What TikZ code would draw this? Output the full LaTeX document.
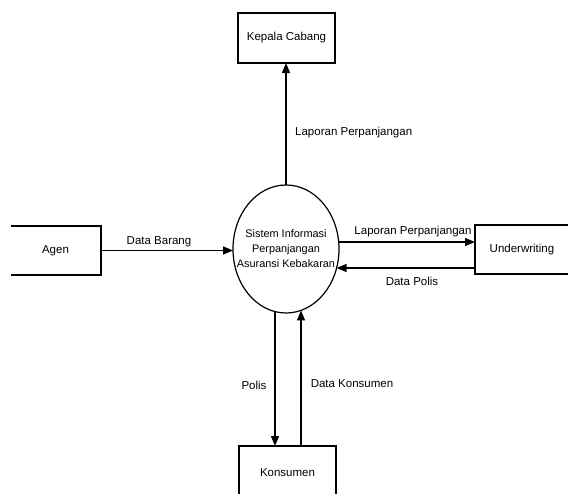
\documentclass[tikz,border=0pt]{standalone}
\usepackage{fontspec}
\setmainfont{Liberation Sans}
\usetikzlibrary{arrows.meta,shapes.geometric}
\begin{document}
\begin{tikzpicture}[x=1pt,y=-1pt,
  ent/.style={draw,line width=1.2pt,inner sep=0pt,outer sep=0pt,font=\fontsize{11.5}{13}\selectfont},
  proc/.style={draw,ellipse,line width=1.2pt,minimum width=106pt,minimum height=128pt,inner sep=0pt,outer sep=0pt},
  proctext/.style={align=center,inner sep=0pt,font=\fontsize{10.9}{15}\selectfont},
  flow/.style={line width=1.3pt,-{Triangle[length=10pt,width=8pt]}},
  lbl/.style={font=\fontsize{11.5}{13}\selectfont,inner sep=0pt}]
\useasboundingbox (0,0) rectangle (568,493);
\clip (11,0) rectangle (568,493);
% entities
\node[ent,minimum width=97pt,minimum height=50pt] (kc) at (286.5,38) {Kepala Cabang};
\node[ent,minimum width=91pt,minimum height=49pt] (ag) at (55.5,250.5) {Agen};
\node[ent,minimum width=94pt,minimum height=49pt] (uw) at (522,249.5) {Underwriting};
\node[ent,minimum width=97pt,minimum height=54pt] (ks) at (287.5,473) {Konsumen};
% process
\node[proc] (p) at (286,249) {};
\node[proctext] (pt) at (286,249) {Sistem Informasi\\Perpanjangan\\Asuransi Kebakaran};
% attachment points on the ellipse
\coordinate (r1) at (338.7,242);
\coordinate (r2) at (336.6,268);
\coordinate (b1) at (275,311.6);
\coordinate (b2) at (301,310.4);
% flows
\draw[flow] (p.north) -- (p.north |- kc.south);
\draw[flow] (ag.east) -- (ag.east -| p.west);
\draw[flow] (r1) -- (r1 -| uw.west);
\draw[flow] (r2 -| uw.west) -- (r2);
\draw[flow] (b1) -- (b1 |- ks.north);
\draw[flow] (b2 |- ks.north) -- (b2);
% labels
\node[lbl,anchor=west] (l1) at (295,133) {Laporan Perpanjangan};
\node[lbl] (l2) at (159,242) {Data Barang};
\node[lbl] (l3) at (413,232) {Laporan Perpanjangan};
\node[lbl] (l4) at (412,281) {Data Polis};
\node[lbl] (l5) at (254,385) {Polis};
\node[lbl] (l6) at (352,384) {Data Konsumen};
\end{tikzpicture}
\end{document}
